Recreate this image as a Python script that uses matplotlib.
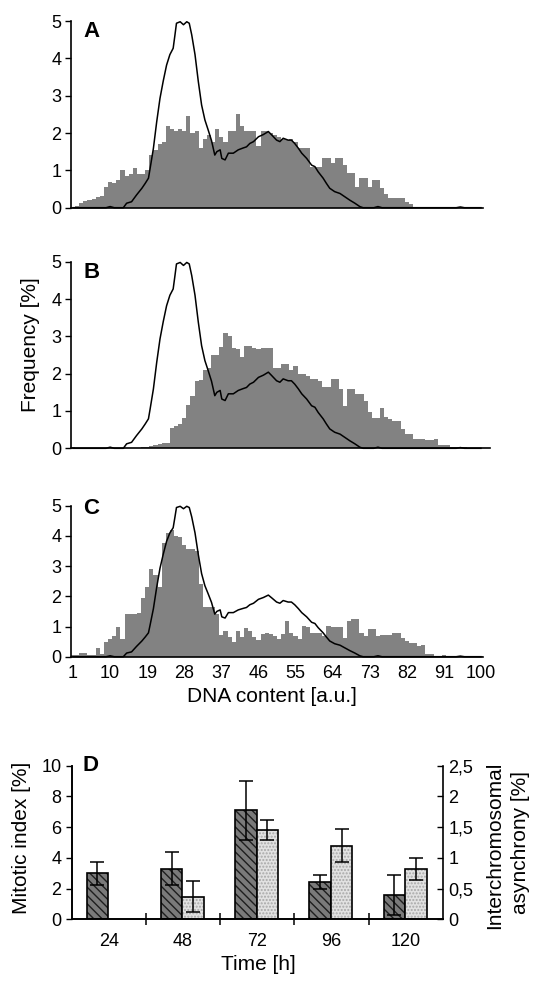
import numpy as np
import matplotlib
matplotlib.use("Agg")
import matplotlib.pyplot as plt

plt.rcParams['font.family'] = ['Liberation Sans', 'DejaVu Sans']

# ---- data -------------------------------------------------------------
bins = np.arange(1, 101)                       # DNA content classes 1..100

hist_a = [0.0, 0.05, 0.12, 0.17, 0.2, 0.24, 0.28, 0.32, 0.55, 0.7,
          0.65, 0.75, 1.0, 0.85, 0.9, 1.05, 0.9, 0.9, 1.0, 1.4,
          1.55, 1.7, 1.75, 2.2, 2.1, 2.05, 2.1, 2.05, 2.45, 2.0,
          2.05, 1.6, 1.85, 1.95, 1.75, 2.1, 1.9, 1.75, 2.05, 2.05,
          2.5, 2.2, 2.05, 2.05, 2.05, 1.65, 2.05, 2.05, 2.0, 1.95,
          1.9, 1.85, 1.8, 1.85, 1.75, 1.6, 1.6, 1.6, 1.1, 1.1,
          1.1, 1.32, 1.32, 1.19, 1.32, 1.32, 1.14, 0.92, 0.92, 0.56,
          0.79, 0.79, 0.56, 0.74, 0.74, 0.52, 0.38, 0.25, 0.27, 0.25,
          0.25, 0.14, 0.1, 0.02, 0.02, 0.02, 0.02, 0.0, 0.0, 0.0,
          0.0, 0.0, 0.0, 0.0, 0.0, 0.02, 0.02, 0.0, 0.0, 0.0]

hist_b = [0.04, 0.0, 0.0, 0.0, 0.0, 0.0, 0.0, 0.0, 0.0, 0.0,
          0.0, 0.0, 0.0, 0.0, 0.0, 0.0, 0.0, 0.03, 0.04, 0.06,
          0.09, 0.12, 0.15, 0.15, 0.55, 0.6, 0.65, 0.8, 1.15, 1.4,
          1.8, 1.82, 2.1, 2.15, 2.5, 2.5, 2.72, 3.1, 3.0, 2.7,
          2.65, 2.45, 2.75, 2.75, 2.7, 2.65, 2.7, 2.7, 2.7, 2.15,
          2.15, 2.25, 2.25, 2.1, 2.2, 2.0, 2.0, 1.94, 1.85, 1.85,
          1.8, 1.63, 1.63, 1.85, 1.85, 1.58, 1.13, 1.58, 1.58, 1.45,
          1.45, 1.27, 0.96, 0.82, 0.82, 1.09, 0.85, 0.78, 0.73, 0.73,
          0.51, 0.38, 0.38, 0.24, 0.24, 0.24, 0.21, 0.21, 0.24, 0.1,
          0.1, 0.1, 0.03, 0.03, 0.03, 0.03, 0.0, 0.0, 0.0, 0.0]

hist_c = [0.05, 0.05, 0.13, 0.13, 0.05, 0.05, 0.3, 0.1, 0.5, 0.6,
          0.67, 1.0, 0.6, 1.4, 1.4, 1.4, 1.45, 1.95, 2.3, 2.9,
          2.7, 2.3, 3.75, 4.1, 4.2, 4.0, 3.95, 3.7, 3.55, 3.55,
          3.5, 2.4, 1.65, 1.65, 1.65, 1.4, 0.72, 0.85, 0.65, 0.5,
          0.85, 0.65, 0.95, 0.85, 0.65, 0.55, 0.75, 0.8, 0.75, 0.69,
          0.58, 0.74, 1.19, 0.8, 0.7, 0.58, 1.02, 0.97, 0.8, 0.8,
          0.8, 0.69, 1.02, 1.0, 1.0, 1.0, 0.63, 1.17, 1.24, 1.24,
          0.8, 0.69, 0.91, 0.91, 0.69, 0.71, 0.71, 0.71, 0.78, 0.78,
          0.63, 0.52, 0.44, 0.44, 0.36, 0.39, 0.08, 0.08, 0.02, 0.02,
          0.05, 0.02, 0.02, 0.02, 0.02, 0.02, 0.02, 0.02, 0.02, 0.02]

# control distribution (same curve in A, B and C)
line_x = [1, 9, 10, 11, 12, 13.2, 14.0, 15.2, 16.4, 17.7, 18.5, 19.3, 19.7,
          20.5, 21.3, 22.1, 22.9, 23.7, 24.5, 25.3, 25.7, 26.1, 27.0, 27.8,
          28.6, 29.2, 29.8, 30.6, 31.4, 32.2, 33.0, 33.8, 34.6, 35.4, 35.9,
          36.7, 37.1, 37.9, 38.7, 39.9, 41.1, 42.3, 43.1, 43.9, 44.8, 46.0,
          47.2, 48.4, 49.2, 50.4, 51.2, 52.0, 53.2, 54.0, 54.8, 55.7, 56.5,
          57.7, 58.9, 59.7, 60.5, 61.7, 62.5, 63.3, 64.5, 65.8, 67.0, 68.2,
          69.4, 70.6, 71.4, 74, 75, 76, 94, 95, 96, 100]
line_y = [0, 0, 0.03, 0, 0, 0, 0.12, 0.16, 0.34, 0.52, 0.65, 0.79, 1.05,
          1.59, 2.3, 2.93, 3.4, 3.82, 4.1, 4.27, 4.6, 4.94, 4.98, 4.9,
          4.98, 4.94, 4.63, 4.1, 3.38, 2.75, 2.35, 2.08, 1.8, 1.41, 1.5,
          1.55, 1.32, 1.28, 1.46, 1.46, 1.55, 1.6, 1.63, 1.72, 1.77, 1.9,
          1.96, 2.04, 1.95, 1.81, 1.77, 1.86, 1.81, 1.81, 1.72, 1.59, 1.46,
          1.32, 1.14, 1.1, 0.96, 0.79, 0.65, 0.52, 0.43, 0.38, 0.29, 0.2,
          0.12, 0.03, 0, 0, 0.03, 0, 0, 0.02, 0, 0]

xtick_vals = [1, 10, 19, 28, 37, 46, 55, 64, 73, 82, 91, 100]

# panel D
times = ['24', '48', '72', '96', '120']
mitotic = [3.0, 3.3, 7.1, 2.43, 1.6]
mitotic_err = [0.75, 1.05, 1.93, 0.43, 1.3]
asyn = [np.nan, 0.37, 1.45, 1.2, 0.82]
asyn_err = [np.nan, 0.25, 0.16, 0.27, 0.18]

# ---- figure -----------------------------------------------------------
W, H = 538, 982
fig = plt.figure(figsize=(W / 100, H / 100), dpi=100)

def rect(x0, y_top, x1, y_bot):
    return [x0 / W, 1 - y_bot / H, (x1 - x0) / W, (y_bot - y_top) / H]

gray = '#828282'
edges = np.arange(0.5, 101.5, 1.0)


def hist_panel(r, hist, letter, xmax, letter_y):
    ax = fig.add_axes(r)
    ax.stairs(hist, edges, fill=True, color=gray, linewidth=0)
    ax.plot(line_x, line_y, color='black', lw=1.1, clip_on=False)
    ax.set_xlim(0.5, xmax)
    ax.set_ylim(0, 5)
    ax.set_yticks([0, 1, 2, 3, 4, 5])
    ax.tick_params(axis='y', direction='out', length=4, width=1,
                   labelsize=13, pad=3)
    ax.tick_params(axis='x', length=0)
    for s in ['top', 'right']:
        ax.spines[s].set_visible(False)
    for s in ['left', 'bottom']:
        ax.spines[s].set_linewidth(1.2)
    ax.text(0.03, letter_y, letter, transform=ax.transAxes, fontsize=16,
            fontweight='bold', ha='left', va='top')
    return ax


ax_a = hist_panel(rect(71, 21, 483, 207.7), hist_a, 'A', 100.5, 1.0)
ax_a.set_xticks([])
ax_b = hist_panel(rect(71, 261.7, 490, 448.3), hist_b, 'B', 102.2, 1.0)
ax_b.set_xticks([])
ax_c = hist_panel(rect(71, 505.7, 483, 656.7), hist_c, 'C', 100.5, 1.05)
ax_c.set_xticks(xtick_vals)
ax_c.set_xticklabels([str(v) for v in xtick_vals])
ax_c.tick_params(axis='x', labelsize=13, pad=6)

fig.text(30 / W, 1 - 345 / H, 'Frequency [%]', rotation=90,
         ha='center', va='center', fontsize=15)
fig.text(272 / W, 1 - 697 / H, 'DNA content [a.u.]',
         ha='center', va='center', fontsize=15)

# ---- panel D ----------------------------------------------------------
ax_d = fig.add_axes(rect(71.7, 765.7, 443, 919.3))
ax_r = ax_d.twinx()
pos = np.arange(len(times))
bw = 0.29
dark_x = pos + 0.2
light_x = pos + 0.49

ax_d.bar(dark_x, mitotic, width=bw, align='edge', color='#7a7a7a',
         edgecolor='#1e1e1e', hatch='\\\\\\\\', linewidth=0)
ax_d.bar(dark_x, mitotic, width=bw, align='edge', fill=False,
         edgecolor='black', linewidth=1.2)
ax_d.errorbar(dark_x + bw / 2, mitotic, yerr=mitotic_err, fmt='none',
              ecolor='black', elinewidth=1.1, capsize=5, capthick=1.1)

ax_r.bar(light_x, asyn, width=bw, align='edge', color='#e2e2e2',
         edgecolor='#a8a8a8', hatch='.....', linewidth=0)
ax_r.bar(light_x, asyn, width=bw, align='edge', fill=False,
         edgecolor='black', linewidth=1.2)
ax_r.errorbar(light_x + bw / 2, asyn, yerr=asyn_err, fmt='none',
              ecolor='black', elinewidth=1.1, capsize=5, capthick=1.1)

ax_d.set_xlim(0, len(times))
ax_d.set_ylim(0, 10)
ax_r.set_ylim(0, 2.5)
ax_d.set_yticks([0, 2, 4, 6, 8, 10])
ax_r.set_yticks([0, 0.5, 1, 1.5, 2, 2.5])
ax_r.set_yticklabels(['0', '0,5', '1', '1,5', '2', '2,5'])
ax_d.set_xticks(pos + 0.5)
ax_d.set_xticklabels(times)
ax_d.set_xticks(np.arange(1, len(times)), minor=True)
ax_d.tick_params(axis='x', which='major', length=0, labelsize=13, pad=10)
ax_d.tick_params(axis='x', which='minor', direction='inout', length=9,
                 width=1.1)
ax_d.tick_params(axis='y', direction='out', length=4, width=1,
                 labelsize=13)
ax_r.tick_params(axis='y', direction='in', length=4, width=1,
                 labelsize=13, pad=4)
for a in (ax_d, ax_r):
    a.spines['top'].set_visible(False)
    for s in ['left', 'bottom', 'right']:
        a.spines[s].set_linewidth(1.2)
ax_d.spines['right'].set_visible(False)

ax_d.text(0.03, 1.07, 'D', transform=ax_d.transAxes, fontsize=16,
          fontweight='bold', ha='left', va='top')

fig.text(22 / W, 1 - 838 / H, 'Mitotic index [%]', rotation=90,
         ha='center', va='center', fontsize=15)
fig.text(495 / W, 1 - 845 / H, 'Interchromosomal', rotation=90,
         ha='center', va='center', fontsize=15)
fig.text(520 / W, 1 - 843 / H, 'asynchrony [%]', rotation=90,
         ha='center', va='center', fontsize=15)
fig.text(258 / W, 1 - 965 / H, 'Time [h]', ha='center', va='center',
         fontsize=15)

fig.savefig('out.png', dpi=100)
